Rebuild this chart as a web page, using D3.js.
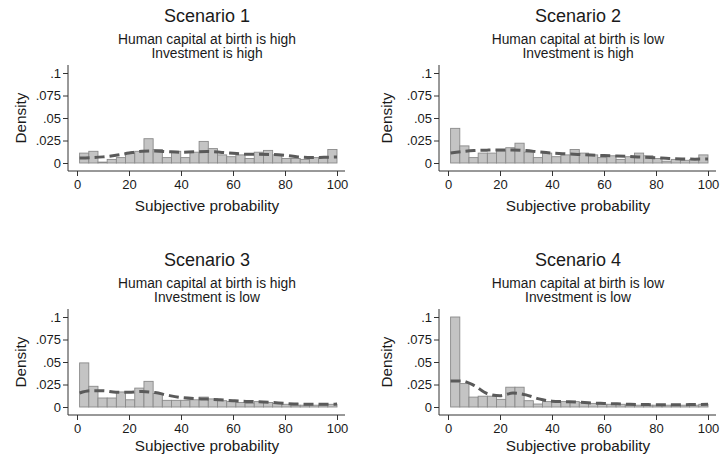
<!DOCTYPE html>
<html><head><meta charset="utf-8">
<script src="https://cdn.jsdelivr.net/npm/d3@7/dist/d3.min.js"></script>
<style>
html,body{margin:0;padding:0;background:#fff;}
svg{display:block;font-family:"Liberation Sans",Arial,sans-serif;}
</style></head>
<body><svg id="chart" width="722" height="455"></svg>
<script>
// ---- data ----
const titles = ["Scenario 1","Scenario 2","Scenario 3","Scenario 4"];
const subtitle1 = ["Human capital at birth is high","Human capital at birth is low","Human capital at birth is high","Human capital at birth is low"];
const subtitle2 = ["Investment is high","Investment is high","Investment is low","Investment is low"];
const xTicks = [0,20,40,60,80,100];
const yTicks = [0,0.025,0.05,0.075,0.1];
const yTickLabels = ["0",".025",".05",".075",".1"];
const binStart = 1, binEnd = 100, binCount = 28;
// histogram densities, 28 bins from 1 to 100
const s1Bars = [.011,.013,.001,.004,.006,.011,.013,.027,.015,.006,.013,.006,.012,.024,.016,.009,.007,.009,.005,.012,.014,.009,.005,.005,.004,.006,.006,.015];
const s2Bars = [.0385,.019,.006,.011,.011,.0135,.017,.022,.012,.006,.011,.007,.009,.015,.011,.009,.006,.008,.004,.007,.011,.008,.005,.002,.004,.003,.004,.009];
const s3Bars = [.049,.023,.010,.010,.0167,.008,.021,.0285,.015,.0074,.0074,.0074,.008,.011,.009,.007,.006,.005,.004,.006,.005,.004,.003,.002,.002,.002,.002,.003];
const s4Bars = [.100,.026,.011,.012,.012,.0085,.022,.022,.007,.0033,.006,.006,.006,.006,.005,.004,.003,.003,.003,.002,.002,.002,.002,.002,.002,.002,.002,.003];
// kernel density estimates
const kdeX = [1,5,10,15,20,25,30,35,40,45,50,55,60,65,70,75,80,85,90,95,100];
const s1Kde = [.0055,.0058,.0068,.0085,.011,.013,.0133,.0125,.012,.0125,.0127,.012,.0108,.0098,.0097,.0095,.0085,.0068,.006,.0063,.0067];
const s2Kde = [.011,.0125,.0138,.0143,.0145,.0145,.0138,.0123,.011,.0102,.0095,.009,.0082,.0078,.0072,.0065,.0058,.005,.0045,.0043,.0045];
const s3Kde = [.0155,.018,.018,.0165,.0165,.0172,.016,.013,.0105,.0093,.0088,.008,.007,.0062,.0058,.005,.004,.0032,.003,.003,.0032];
const s4Kde = [.029,.029,.024,.015,.0125,.0155,.0135,.009,.0065,.006,.0055,.0045,.004,.0035,.003,.0028,.0025,.0025,.0025,.0028,.003];

const barsAll = [s1Bars,s2Bars,s3Bars,s4Bars];
const kdeAll = [s1Kde,s2Kde,s3Kde,s4Kde];

const svg = d3.select("#chart");
const textCol = "#1a1a1a";
const axisCol = "#333";
const binW = (binEnd-binStart)/binCount;

for (let p=0;p<4;p++){
  const row = Math.floor(p/2);
  const ox = (p%2)*371, oy = row*244;
  const g = svg.append("g").attr("transform",`translate(${ox},${oy})`);
  const x = d3.scaleLinear().domain([0,100]).range([77,337]);
  const y = d3.scaleLinear().domain([0,0.1]).range([163,73]);
  const axisY = 171, axisX = 68;

  // titles
  const cx = 207;
  g.append("text").attr("x",cx).attr("y",22).attr("text-anchor","middle")
    .attr("font-size",18).attr("fill",textCol).text(titles[p]);
  g.append("text").attr("x",cx).attr("y",43.5).attr("text-anchor","middle")
    .attr("font-size",13.8).attr("fill",textCol).text(subtitle1[p]);
  g.append("text").attr("x",cx).attr("y",57.5).attr("text-anchor","middle")
    .attr("font-size",13.8).attr("fill",textCol).text(subtitle2[p]);

  // bars
  g.append("g").selectAll("rect").data(barsAll[p]).join("rect")
    .attr("x",(d,i)=>x(binStart+i*binW))
    .attr("width",(d,i)=>x(binStart+(i+1)*binW)-x(binStart+i*binW))
    .attr("y",d=>y(d)).attr("height",d=>y(0)-y(d))
    .attr("fill","#c4c4c4").attr("stroke","#8a8a8a").attr("stroke-width",0.9);

  // kde
  const line = d3.line().x((d,i)=>x(kdeX[i])).y(d=>y(d)).curve(d3.curveMonotoneX);
  g.append("path").attr("d",line(kdeAll[p])).attr("fill","none")
    .attr("stroke","#5a5a5a").attr("stroke-width",3).attr("stroke-dasharray","10,5");

  // y axis
  const ya = d3.axisLeft(y).tickValues(yTicks).tickSize(5).tickPadding(2)
    .tickFormat((d,i)=>yTickLabels[i]);
  const yg = g.append("g").attr("transform",`translate(${axisX},0)`).call(ya);
  yg.select(".domain").attr("d",`M0,65V${axisY}`).attr("stroke",axisCol);
  yg.selectAll(".tick line").attr("stroke",axisCol);
  yg.selectAll("text").attr("font-size",13).attr("fill",textCol).attr("font-family",null);

  // x axis
  const xa = d3.axisBottom(x).tickValues(xTicks).tickSize(5).tickPadding(4);
  const xg = g.append("g").attr("transform",`translate(0,${axisY})`).call(xa);
  xg.select(".domain").attr("d",`M${axisX},0H345`).attr("stroke",axisCol);
  xg.selectAll(".tick line").attr("stroke",axisCol);
  xg.selectAll("text").attr("font-size",13).attr("fill",textCol).attr("font-family",null);

  // axis titles
  g.append("text").attr("x",cx).attr("y",row ? 207 : 210.5).attr("text-anchor","middle")
    .attr("font-size",15.3).attr("fill",textCol).text("Subjective probability");
  g.append("text").attr("transform",`translate(${p%2?21:26},118) rotate(-90)`)
    .attr("text-anchor","middle").attr("font-size",15.3).attr("fill",textCol).text("Density");
}
</script></body></html>
